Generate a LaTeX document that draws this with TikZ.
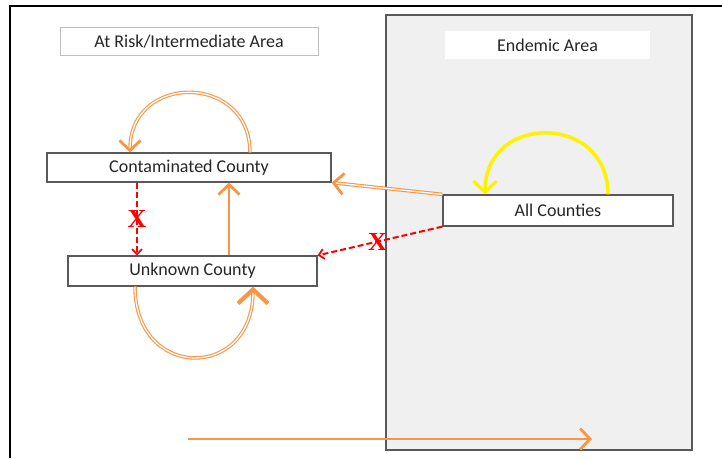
\documentclass[tikz,border=0pt]{standalone}
\usepackage{fontspec}
\setmainfont{Carlito}
\newfontfamily\xfont{Liberation Serif}
\usepackage{xcolor}
\usetikzlibrary{arrows.meta}
\definecolor{spreadorange}{RGB}{247,150,70}
\definecolor{boxgray}{RGB}{89,89,89}
\definecolor{areagray}{RGB}{240,240,240}
\definecolor{txtgray}{RGB}{38,38,38}

\begin{document}
\begin{tikzpicture}[x=1pt,y=1pt]
  \tikzset{county/.style = {shape=rectangle,draw=boxgray,line width=1.2pt,fill=white,minimum height=29pt,inner sep=0pt,text=txtgray,font=\fontsize{18}{22}\selectfont}}
  \tikzset{label/.style = {shape=rectangle,fill=white,minimum height=28pt,inner sep=0pt,text=txtgray,font=\fontsize{18}{22}\selectfont}}
  \tikzset{spread/.style = {draw=spreadorange,line width=2.4pt}}
  \tikzset{dspread/.style = {draw=spreadorange,double=white,double distance=1.3pt,line width=1.1pt}}
  \tikzset{blocked/.style = {draw=red,dashed,dash pattern=on 6pt off 3pt,line width=2pt}}
  \tikzset{xmark/.style = {text=red,font=\xfont\bfseries\fontsize{26}{26}\selectfont,inner sep=0pt}}
  \tikzset{%
  tipO/.tip={Straight Barb[length=10pt,width=21pt,line width=2.8pt]},
  tipY/.tip={Straight Barb[length=11pt,width=23pt,line width=3.2pt]},
  tipB/.tip={Straight Barb[length=14pt,width=30pt,line width=4.2pt]},
  tipR/.tip={Straight Barb[length=5pt,width=10pt,line width=1.8pt]},
}
  \useasboundingbox (0,0) rectangle (722,458);

	% frame and endemic area
	\draw[line width=1.5pt] (722,452) -- (10,452) -- (10,0);
	\draw[fill=areagray,draw=boxgray,line width=2pt] (386,8) rectangle (692,443);

	\node[label,draw=black!25,line width=0.8pt,minimum width=258pt] (AR) at (189,416.5) {At Risk/Intermediate Area};
	\node[label,minimum width=205pt] (EA) at (547.5,413) {Endemic Area};

	\node[county,minimum width=284pt] (CC) at (189,290.5) {Contaminated County};
	\node[county,minimum width=249pt,minimum height=30pt] (UC) at (192.5,187) {Unknown County};
	\node[county,minimum width=230pt,minimum height=31pt] (AC) at (558,247.5) {All Counties};

	\coordinate (S) at (188,19);
	\coordinate (E) at (592,19);

	% loops
	\draw[draw=yellow,line width=3.5pt,-tipY] ([xshift=50pt]AC.north) to[out=90,in=90,looseness=1.7] ([xshift=-73pt]AC.north);
	\draw[dspread,-tipO] ([xshift=61pt]CC.north) to[out=90,in=90,looseness=1.7] ([xshift=-59pt]CC.north);
	\draw[dspread,-tipB] ([xshift=-57.5pt]UC.south) to[out=-90,in=-90,looseness=2.05] ([xshift=60.5pt]UC.south);

	% spread between counties
	\draw[spread,-tipO] ([xshift=36.5pt]UC.north) -- ([xshift=40pt]CC.south);
	\draw[dspread,-tipO] (AC.north west) -- (CC.south east);
	\draw[spread,line width=2pt,-tipO] (S) -- (E);

	% blocked paths
	\draw[blocked,-tipR] ([xshift=-52pt]CC.south) -- node[xmark]{X} ([xshift=-55.5pt]UC.north);
	\draw[blocked,-tipR] (AC.south west) -- node[xmark,pos=0.52]{X} (UC.north east);

\end{tikzpicture}
\end{document}
